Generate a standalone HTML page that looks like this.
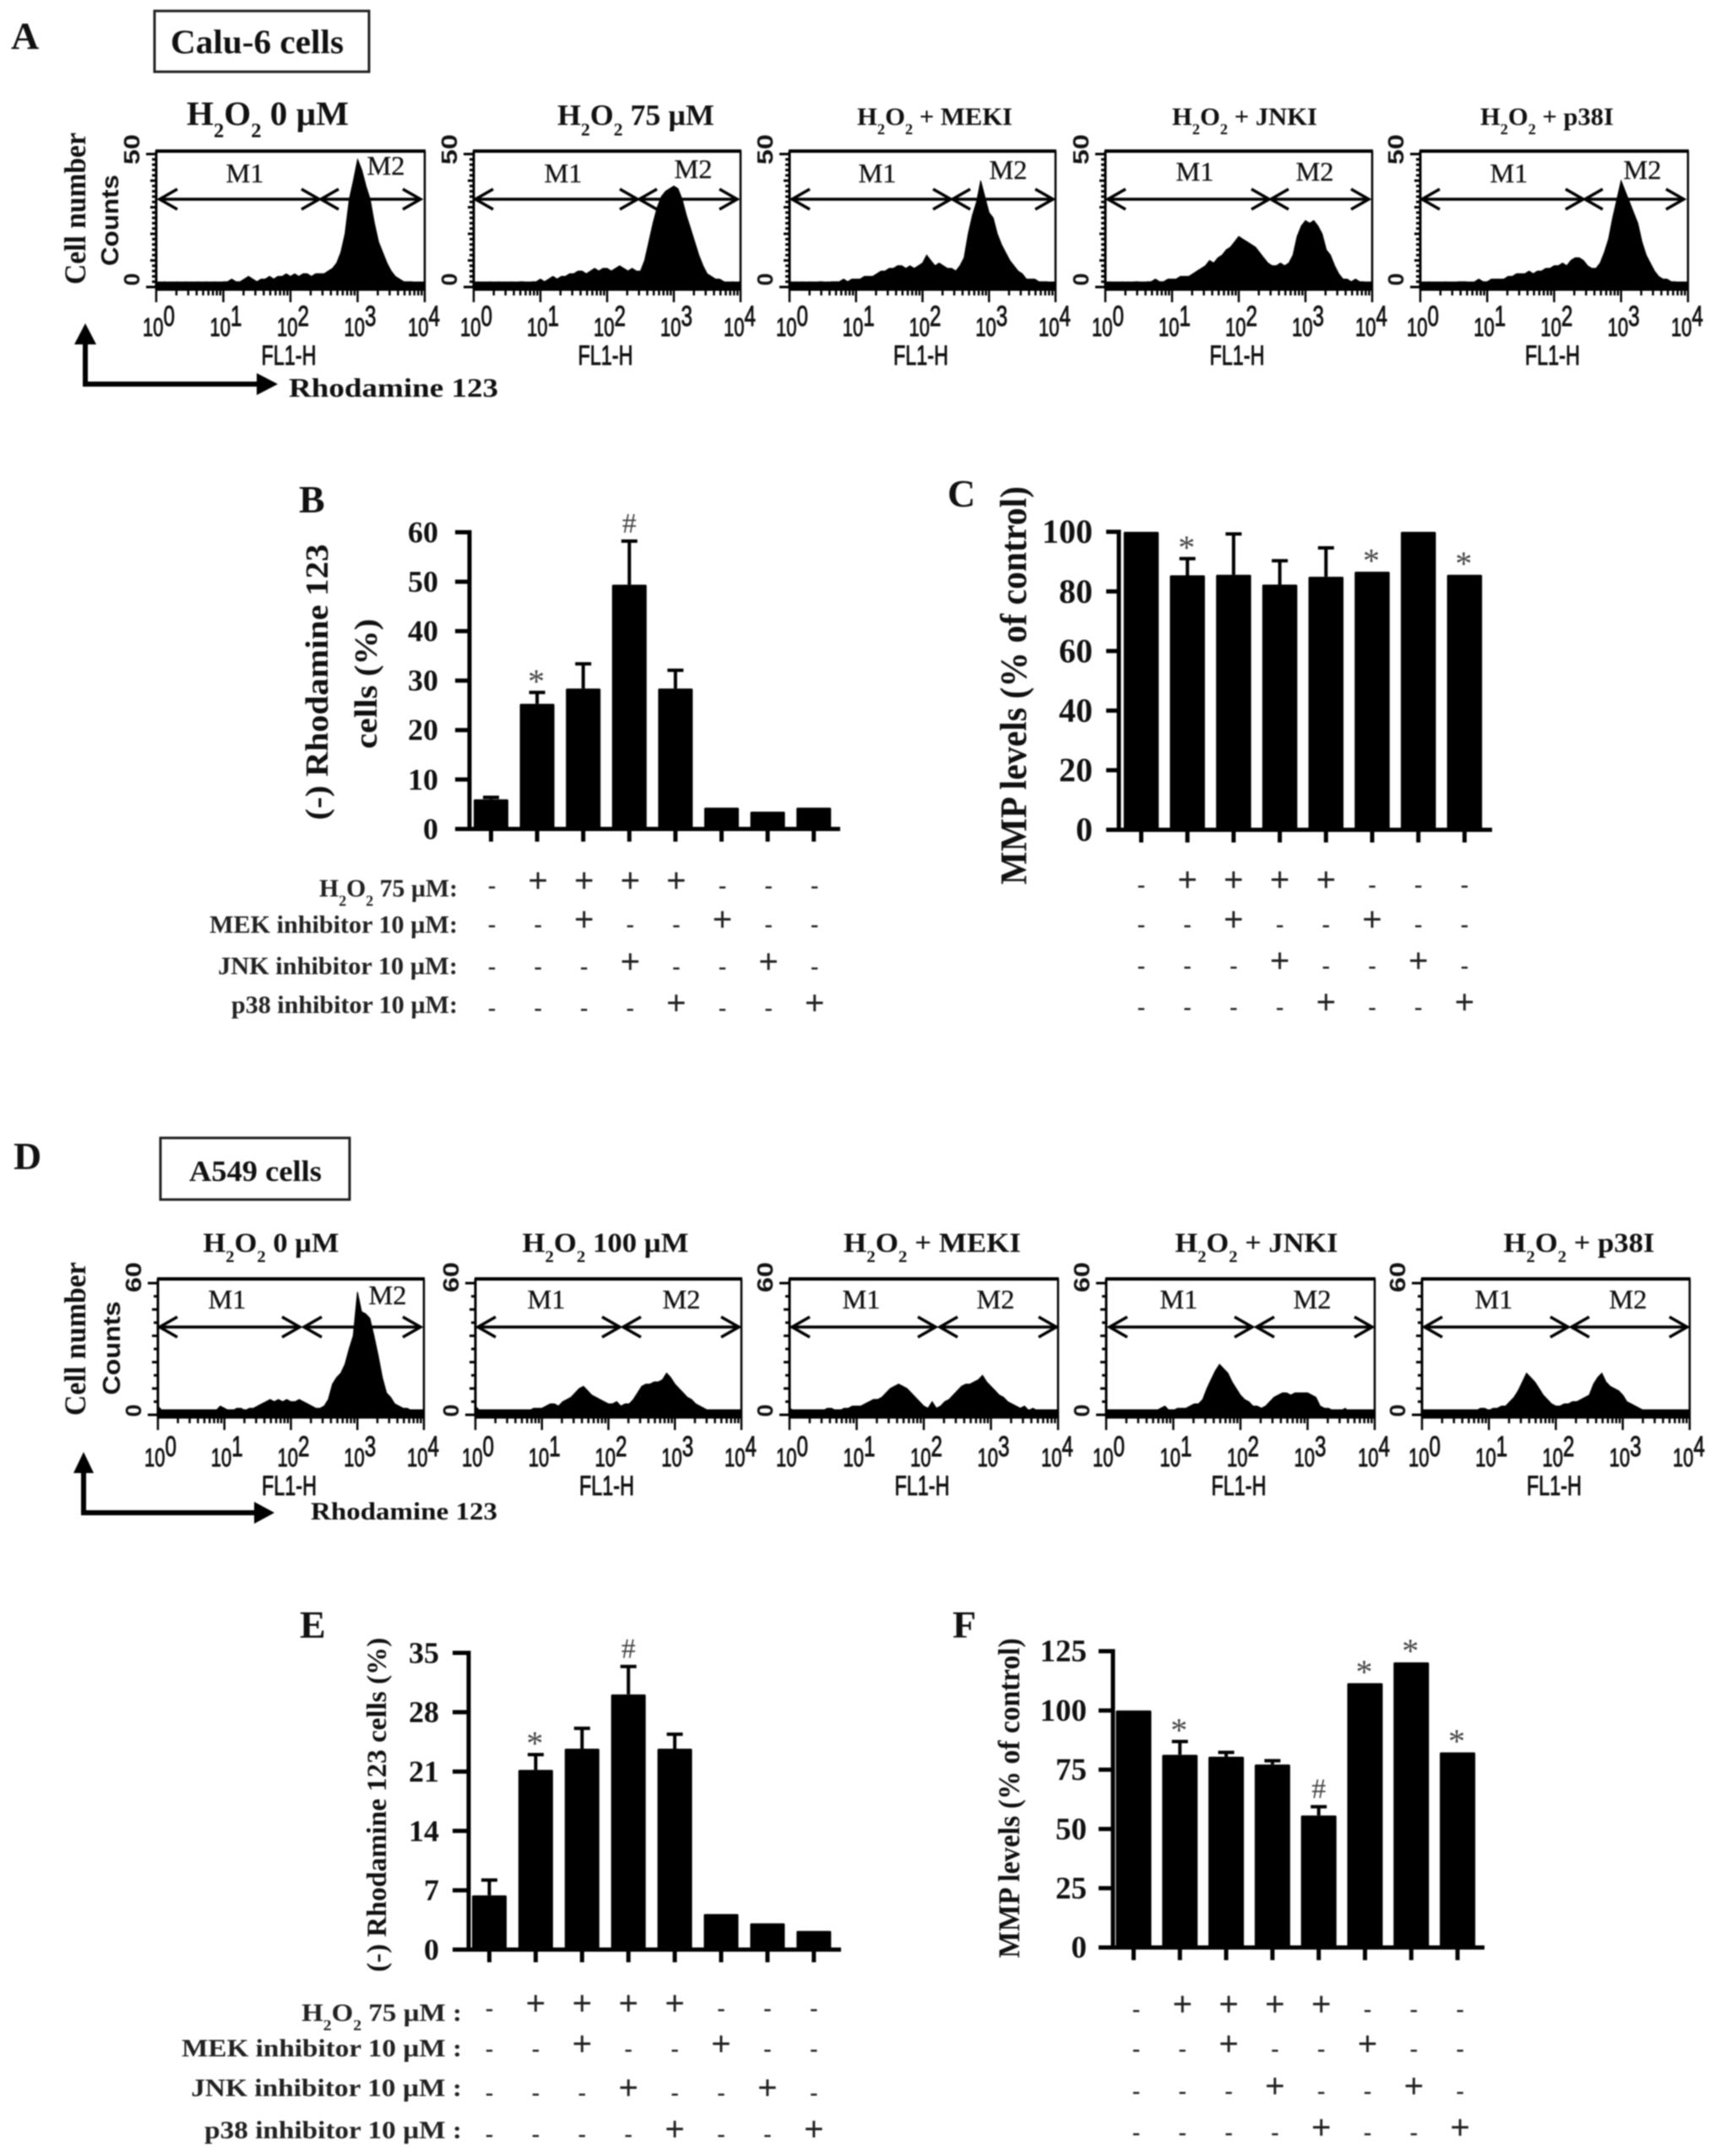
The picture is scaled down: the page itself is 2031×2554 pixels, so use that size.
<!DOCTYPE html>
<html lang="en">
<head>
<meta charset="utf-8">
<title>Rhodamine 123 flow cytometry and MMP levels</title>
<style>
  html, body { margin: 0; padding: 0; background: #fff; }
  svg { display: block; filter: blur(0.9px); }
  text { font-family: "Liberation Serif", serif; fill: #111; }
</style>
</head>
<body>
<svg id="figure" xmlns="http://www.w3.org/2000/svg" width="2031" height="2554" viewBox="0 0 2031 2554">
  <rect x="0" y="0" width="2031" height="2554" fill="#fff"/>

  <text x="13" y="58" font-size="46" font-weight="bold">A</text>
  <text x="354" y="607" font-size="46" font-weight="bold">B</text>
  <text x="1122" y="600" font-size="46" font-weight="bold">C</text>
  <text x="16" y="1385" font-size="46" font-weight="bold">D</text>
  <text x="355" y="1940" font-size="46" font-weight="bold">E</text>
  <text x="1128" y="1940" font-size="46" font-weight="bold">F</text>

  <rect x="183" y="13" width="254" height="72" fill="#fff" stroke="#222" stroke-width="3"/>
  <text x="202" y="63" font-size="40" font-weight="bold" textLength="205" lengthAdjust="spacingAndGlyphs">Calu-6 cells</text>
  <rect x="190" y="1348" width="224" height="73" fill="#fff" stroke="#222" stroke-width="3"/>
  <text x="224" y="1399" font-size="35" font-weight="bold" textLength="157" lengthAdjust="spacingAndGlyphs">A549 cells</text>

  <text transform="translate(101,247) rotate(-90)" text-anchor="middle" font-size="36" font-weight="bold" textLength="180" lengthAdjust="spacingAndGlyphs">Cell number</text>
  <text transform="translate(140,261) rotate(-90)" text-anchor="middle" font-size="29" font-weight="bold" style="font-family:'Liberation Sans',sans-serif" textLength="108" lengthAdjust="spacingAndGlyphs">Counts</text>
  <text transform="translate(101,1586) rotate(-90)" text-anchor="middle" font-size="36" font-weight="bold" textLength="182" lengthAdjust="spacingAndGlyphs">Cell number</text>
  <text transform="translate(142,1597) rotate(-90)" text-anchor="middle" font-size="29" font-weight="bold" style="font-family:'Liberation Sans',sans-serif" textLength="111" lengthAdjust="spacingAndGlyphs">Counts</text>

  <g>
    <polyline points="101,402 101,455 312,455" fill="none" stroke="#000" stroke-width="6"/>
    <polygon points="101,383 88,408 114,408" fill="#000"/>
    <polygon points="329,455 304,442 304,468" fill="#000"/>
  </g>
  <text x="342" y="470" font-size="32" font-weight="bold" textLength="248" lengthAdjust="spacingAndGlyphs">Rhodamine 123</text>
  <g>
    <polyline points="99,1738 99,1792 308,1792" fill="none" stroke="#000" stroke-width="6"/>
    <polygon points="99,1720 87,1745 111,1745" fill="#000"/>
    <polygon points="325,1792 301,1779 301,1805" fill="#000"/>
  </g>
  <text x="368" y="1800" font-size="30" font-weight="bold" textLength="221" lengthAdjust="spacingAndGlyphs">Rhodamine 123</text>

  <text transform="translate(388,808) rotate(-90)" text-anchor="middle" font-size="38" font-weight="bold" textLength="327" lengthAdjust="spacingAndGlyphs">(-) Rhodamine 123</text>
  <text transform="translate(446,810) rotate(-90)" text-anchor="middle" font-size="38" font-weight="bold" textLength="154" lengthAdjust="spacingAndGlyphs">cells (%)</text>
  <text transform="translate(1215,812) rotate(-90)" text-anchor="middle" font-size="44" font-weight="bold" textLength="472" lengthAdjust="spacingAndGlyphs">MMP levels (% of control)</text>
  <text transform="translate(457,2138) rotate(-90)" text-anchor="middle" font-size="33" font-weight="bold" textLength="396" lengthAdjust="spacingAndGlyphs">(-) Rhodamine 123 cells (%)</text>
  <text transform="translate(1207,2130) rotate(-90)" text-anchor="middle" font-size="36" font-weight="bold" textLength="379" lengthAdjust="spacingAndGlyphs">MMP levels (% of control)</text>
</svg>

<script>
// ---------- Histogram data: counts per 1/16-decade bin on the FL1-H log axis ----------
const histTitlesA = ['H_2O_2 0 µM', 'H_2O_2 75 µM', 'H_2O_2 + MEKI', 'H_2O_2 + JNKI', 'H_2O_2 + p38I'];
const histTitlesD = ['H_2O_2 0 µM', 'H_2O_2 100 µM', 'H_2O_2 + MEKI', 'H_2O_2 + JNKI', 'H_2O_2 + p38I'];
const xTickExponents = [0, 1, 2, 3, 4];

const histA1 = [2,1,2,1,1,2,1,2,1,1,2,1,2,1,2,1, 2,2,3,2,2,3,4,3,2,3,3,4,3,4,4,5, 4,5,4,5,5,4,5,5,5,6,7,9,13,20,33,40, 48,44,38,33,24,17,13,9,6,4,3,2,2,2,1,1];
const histA2 = [1,2,1,1,2,1,2,1,1,2,1,2,2,1,2,2, 3,2,3,4,3,4,4,5,5,6,6,5,6,7,6,7, 7,6,7,8,7,6,7,6,6,10,17,24,30,34,36,37, 38,37,33,27,22,17,12,8,5,4,3,3,2,1,2,1];
const histA3 = [2,1,1,2,1,2,1,2,2,1,2,2,2,3,2,3, 3,3,4,4,4,5,6,6,7,7,8,8,7,8,7,8, 9,12,10,8,9,8,7,7,6,8,11,20,27,32,40,34, 28,26,20,16,13,10,8,6,5,3,3,3,2,2,2,1];
const histA4 = [1,2,1,1,2,1,1,2,2,1,2,2,3,2,2,3, 3,3,4,4,4,5,6,7,8,10,9,11,12,14,15,17, 19,18,17,16,15,13,11,9,8,8,9,8,9,12,19,23, 25,24,25,23,20,14,12,8,5,3,3,2,3,2,2,1];
const histA5 = [1,1,2,1,1,1,2,1,1,2,2,2,1,2,3,2, 2,3,3,3,3,4,4,5,5,5,6,5,6,6,7,7, 8,8,9,8,10,11,11,10,8,7,7,9,13,18,26,33, 40,36,32,28,24,17,12,9,6,4,3,3,2,2,1,1];

const histD1 = [4,2,1,2,1,2,1,1,2,1,2,2,1,2,2,4, 3,2,2,3,3,2,3,3,4,5,6,7,6,7,6,7, 6,6,7,6,5,4,3,3,4,7,14,17,19,23,30,36, 56,47,46,44,36,27,17,10,8,5,4,3,3,2,2,1];
const histD2 = [4,2,1,2,2,1,2,1,2,2,1,2,2,2,3,3, 3,4,5,5,4,6,7,8,10,12,13,11,9,8,7,6, 5,5,6,4,5,5,7,10,13,14,14,15,15,16,19,17, 14,12,10,8,7,5,4,3,2,2,1,2,2,1,1,1];
const histD3 = [3,2,1,2,2,2,1,2,2,3,3,2,2,3,3,4, 4,4,5,6,7,7,8,10,12,13,14,13,12,10,8,6, 4,3,6,3,4,6,7,9,11,13,14,14,15,16,18,15, 13,11,9,8,6,5,4,3,4,2,3,2,1,1,1,1];
const histD4 = [2,1,2,1,2,2,2,1,2,2,2,2,2,3,4,2, 2,3,3,3,4,5,5,7,12,16,20,23,21,19,15,12, 9,7,6,4,4,3,4,6,8,9,10,10,9,10,10,10, 10,9,8,4,3,3,2,2,2,3,1,2,2,1,1,1];
const histD5 = [2,1,2,1,1,2,1,2,2,1,2,2,2,2,3,3, 2,3,3,4,4,6,8,11,15,19,17,15,12,9,7,5, 4,4,5,5,6,6,7,8,9,14,17,19,15,13,12,11, 9,6,5,4,3,2,2,1,1,1,1,1,1,1,1,1];

// ---------- Bar chart data ----------
const treatmentLabels = ['H_2O_2 75 µM', 'MEK inhibitor 10 µM', 'JNK inhibitor 10 µM', 'p38 inhibitor 10 µM'];
const h2o2Marks = ['-','+','+','+','+','-','-','-'];
const mekMarks  = ['-','-','+','-','-','+','-','-'];
const jnkMarks  = ['-','-','-','+','-','-','+','-'];
const p38Marks  = ['-','-','-','-','+','-','-','+'];

const bValues = [6, 25.3, 28.4, 49.4, 28.4, 4.3, 3.5, 4.3];
const bErrors = [0.4, 2.3, 5, 8.8, 3.7, 0, 0, 0];
const bSignificance = ['', '*', '', '#', '', '', '', ''];
const bTicks = [0, 10, 20, 30, 40, 50, 60];

const cValues = [100, 85.4, 85.6, 82.3, 84.9, 86.6, 100, 85.6];
const cErrors = [0, 5.6, 13.7, 8, 9.7, 0, 0, 0];
const cSignificance = ['', '*', '', '', '', '*', '', '*'];
const cTicks = [0, 20, 40, 60, 80, 100];

const eValues = [6.4, 21.2, 23.7, 30.1, 23.7, 4.2, 3.1, 2.2];
const eErrors = [1.8, 1.8, 2.4, 3.3, 1.7, 0, 0, 0];
const eSignificance = ['', '*', '', '#', '', '', '', ''];
const eTicks = [0, 7, 14, 21, 28, 35];

const fValues = [100, 81.3, 80.5, 77.2, 55.7, 111.5, 120.3, 82.3];
const fErrors = [0, 5.6, 1.8, 1.6, 3.7, 0, 0, 0];
const fSignificance = ['', '*', '', '', '#', '*', '*', '*'];
const fTicks = [0, 25, 50, 75, 100, 125];

// ---------- Drawing ----------
const SVGNS = 'http://www.w3.org/2000/svg';
const root = document.getElementById('figure');
const SANS = '"Liberation Sans", sans-serif';
const SERIF = '"Liberation Serif", serif';

function shape(parent, tag, attrs, name) {
  const el = document.createElementNS(SVGNS, tag);
  for (const k in attrs) el.setAttribute(k, attrs[k]);
  
  
  parent.appendChild(el);
  return el;
}

function group(parent, name) {
  return shape(parent, 'g', {}, name);
}

function addText(parent, str, o) {
  const el = shape(parent, 'text', {
    'text-anchor': o.anchor || 'middle',
    'font-size': o.size,
    'font-weight': o.weight || 'normal'
  }, o.name);
  el.style.fontFamily = o.family || SERIF;
  if (o.fill) el.style.fill = o.fill;
  if (o.strokeW) { el.style.stroke = o.fill || '#111'; el.style.strokeWidth = o.strokeW; }
  const pieces = str.split(/([_^]\d)/);
  let back = 0;
  pieces.forEach(function (p) {
    if (!p) return;
    const t = document.createElementNS(SVGNS, 'tspan');
    if (p[0] === '_' && p.length === 2) {
      const drop = o.size * 0.36;
      t.textContent = p[1];
      t.setAttribute('font-size', o.size * 0.6);
      t.setAttribute('dy', drop - back);
      back = drop;
    } else if (p[0] === '^' && p.length === 2) {
      const rise = -o.size * 0.38;
      t.textContent = p[1];
      t.setAttribute('font-size', o.size * 1.1);
      t.setAttribute('dy', rise - back);
      back = rise;
    } else {
      t.textContent = p;
      t.setAttribute('dy', -back);
      back = 0;
    }
    el.appendChild(t);
  });
  const w = el.getComputedTextLength();
  const s = o.width && w ? o.width / w : 1;
  let tf = 'translate(' + o.x + ',' + o.y + ')';
  if (o.rotate) tf += ' rotate(' + o.rotate + ')';
  tf += ' scale(' + s + ',1)';
  el.setAttribute('transform', tf);
  return el;
}

function drawHistogram(parent, L, P, counts, title) {
  const g = group(parent, 'histogram-' + P.id);
  const xLog = function (d) { return P.left + d * (P.right - P.left) / 4; };
  const yCount = function (c) { return L.zero - c * (L.zero - L.yMaxPx) / L.max; };

  addText(g, title, { x: P.titleX, y: L.titleY, size: P.titleSize, weight: 'bold', width: P.titleW, name: 'histogram-title' });

  // histogram area
  let d = 'M' + xLog(0) + ' ' + (L.bottom + 2);
  counts.forEach(function (c, i) {
    d += ' L' + xLog(i / 16).toFixed(1) + ' ' + yCount(c).toFixed(1);
  });
  d += ' L' + xLog(4) + ' ' + yCount(counts[counts.length - 1]).toFixed(1);
  d += ' L' + xLog(4) + ' ' + (L.bottom + 2) + ' Z';
  shape(g, 'path', { d: d, fill: '#000', stroke: '#000', 'stroke-width': 1 }, 'histogram-area');

  // frame
  shape(g, 'line', { x1: P.left - 1, x2: P.right + 1, y1: L.top, y2: L.top, stroke: '#000', 'stroke-width': 4 }, 'frame-top');
  shape(g, 'line', { x1: P.right, x2: P.right, y1: L.top, y2: L.bottom, stroke: '#000', 'stroke-width': 2.5 }, 'frame-right');
  shape(g, 'line', { x1: P.left, x2: P.left, y1: L.top, y2: L.bottom, stroke: '#000', 'stroke-width': 3 }, 'y-axis-line');
  shape(g, 'line', { x1: P.left, x2: P.right, y1: L.bottom - 4, y2: L.bottom - 4, stroke: '#000', 'stroke-width': 9 }, 'x-axis-band');

  // y ticks
  for (let c = 0; c <= L.max; c += L.minorStep) {
    const major = c === 0 || c === L.max;
    const mid = c % L.midStep === 0;
    shape(g, 'line', {
      x1: P.left - (major ? 12 : mid ? 7 : 5), x2: P.left,
      y1: yCount(c), y2: yCount(c),
      stroke: '#000', 'stroke-width': 3
    }, 'y-tick');
  }
  addText(g, String(L.max), { x: P.left - 20, y: L.maxLabelY, rotate: -90, size: 26, weight: 'bold', family: SANS, width: 36, name: 'y-tick-label-max' });
  addText(g, '0', { x: P.left - 20, y: L.zeroLabelY, rotate: -90, size: 26, weight: 'bold', family: SANS, width: 15, name: 'y-tick-label-zero' });

  // log x ticks
  for (let dec = 0; dec < 4; dec++) {
    for (let m = 1; m < 10; m++) {
      const lx = xLog(dec + Math.log10(m));
      shape(g, 'line', { x1: lx, x2: lx, y1: L.bottom, y2: L.bottom + (m === 1 ? 16 : 8), stroke: '#000', 'stroke-width': 2.5 }, 'x-tick');
    }
  }
  shape(g, 'line', { x1: xLog(4), x2: xLog(4), y1: L.bottom, y2: L.bottom + 16, stroke: '#000', 'stroke-width': 2.5 }, 'x-tick');
  xTickExponents.forEach(function (e) {
    addText(g, '10^' + e, { x: xLog(e) + (e === 4 ? -1 : 3), y: L.tickLabelY, size: 31, family: SANS, width: 38, strokeW: 0.9, name: 'x-tick-label' });
  });
  addText(g, 'FL1-H', { x: xLog(2) - 2, y: L.fl1Y, size: 32, family: SANS, width: 65, strokeW: 0.9, name: 'x-axis-title' });

  // gates
  function gate(x1, x2, name) {
    const ag = group(g, name);
    const y = L.gateY;
    shape(ag, 'line', { x1: x1, x2: x2, y1: y, y2: y, stroke: '#000', 'stroke-width': 3.5 }, 'gate-line');
    shape(ag, 'polyline', { points: (x1 + 21) + ',' + (y - 12) + ' ' + x1 + ',' + y + ' ' + (x1 + 21) + ',' + (y + 12), fill: 'none', stroke: '#000', 'stroke-width': 3.5 }, 'gate-arrow-left');
    shape(ag, 'polyline', { points: (x2 - 21) + ',' + (y - 12) + ' ' + x2 + ',' + y + ' ' + (x2 - 21) + ',' + (y + 12), fill: 'none', stroke: '#000', 'stroke-width': 3.5 }, 'gate-arrow-right');
  }
  gate(P.m1[0], P.m1[1], 'gate-m1');
  gate(P.m2[0], P.m2[1], 'gate-m2');
  addText(g, 'M1', { x: P.m1LabelX, y: P.m1LabelY, size: 32, width: 45, strokeW: 0.3, name: 'gate-label-m1' });
  addText(g, 'M2', { x: P.m2LabelX, y: P.m2LabelY, size: 32, width: 45, strokeW: 0.3, name: 'gate-label-m2' });
}

function drawBarChart(parent, L, values, errors, marks, ticks) {
  const g = group(parent, 'bar-chart-' + L.id);
  const yVal = function (v) { return L.zero - v * (L.zero - L.topPx) / L.max; };
  const xCat = function (i) { return L.xStart + i * L.xStep; };

  values.forEach(function (v, i) {
    const cx = xCat(i);
    if (errors[i] > 0) {
      const ey = yVal(v + errors[i]);
      shape(g, 'line', { x1: cx, x2: cx, y1: yVal(v), y2: ey, stroke: '#000', 'stroke-width': 4 }, 'error-bar');
      shape(g, 'line', { x1: cx - 9.5, x2: cx + 9.5, y1: ey, y2: ey, stroke: '#000', 'stroke-width': 4 }, 'error-cap');
    }
    shape(g, 'rect', { x: cx - L.barW / 2, y: yVal(v), width: L.barW, height: L.zero - yVal(v), fill: '#000', rx: 1.5 }, 'bar');
    shape(g, 'line', { x1: cx, x2: cx, y1: L.zero, y2: L.zero + 15, stroke: '#000', 'stroke-width': 5 }, 'x-tick');
    if (marks[i]) {
      const sy = yVal(v + errors[i]) - 21;
      if (marks[i] === '*') {
        addText(g, '*', { x: cx - 1, y: sy + 21, size: 40, fill: '#444', name: 'significance-star' });
      } else {
        addText(g, '#', { x: cx, y: sy + 11, size: 34, fill: '#444', name: 'significance-hash' });
      }
    }
  });

  shape(g, 'line', { x1: L.axisX, x2: L.axisX, y1: L.topPx - 2.5, y2: L.zero + 2.5, stroke: '#000', 'stroke-width': 5 }, 'y-axis-line');
  shape(g, 'line', { x1: L.axisLeft, x2: L.axisRight, y1: L.zero, y2: L.zero, stroke: '#000', 'stroke-width': 5 }, 'x-axis-line');
  ticks.forEach(function (t) {
    const ty = yVal(t);
    shape(g, 'line', { x1: L.axisLeft, x2: L.axisX, y1: ty, y2: ty, stroke: '#000', 'stroke-width': 5 }, 'y-tick');
    addText(g, String(t), { x: L.tickLabelX, y: ty + L.tickSize * 0.33, anchor: 'end', size: L.tickSize, weight: 'bold', name: 'y-tick-label' });
  });

  [h2o2Marks, mekMarks, jnkMarks, p38Marks].forEach(function (row, r) {
    const rowG = group(g, 'treatment-row-' + (r + 1));
    row.forEach(function (m, i) {
      const cx = xCat(i) + L.tableDx;
      if (m === '+') {
        addText(rowG, '+', { x: cx, y: L.rowYs[r] + 10, size: 42, weight: 'bold', fill: '#222', name: 'treatment-plus' });
      } else {
        addText(rowG, '-', { x: cx, y: L.rowYs[r] + 11, size: 28, weight: 'bold', fill: '#222', name: 'treatment-minus' });
      }
    });
    if (L.rowLabels) {
      addText(rowG, treatmentLabels[r] + L.colon, {
        x: L.rowLabelRight, y: L.rowLabels.y[r], anchor: 'end', size: 30, weight: 'bold',
        width: L.rowLabels.w[r], fill: '#222', name: 'treatment-label'
      });
    }
  });
}

const layoutA = { zero: 340, yMaxPx: 182.5, max: 50, minorStep: 2, midStep: 10, top: 179, bottom: 342, titleY: 148, tickLabelY: 398, fl1Y: 432, gateY: 236, maxLabelY: 177, zeroLabelY: 331 };
const layoutD = { zero: 1676, yMaxPx: 1520, max: 60, minorStep: 6, midStep: 12, top: 1515, bottom: 1678, titleY: 1483, tickLabelY: 1737, fl1Y: 1771, gateY: 1572, maxLabelY: 1513, zeroLabelY: 1671 };

const panelsA = [
  { id: 'a1', left: 185, right: 503, titleX: 317, titleW: 192, titleSize: 40, m1: [189, 378], m2: [380, 498], m1LabelX: 290, m1LabelY: 216, m2LabelX: 457, m2LabelY: 207 },
  { id: 'a2', left: 561, right: 877, titleX: 753, titleW: 186, titleSize: 35, m1: [563, 755], m2: [757, 873], m1LabelX: 667, m1LabelY: 216, m2LabelX: 821, m2LabelY: 211 },
  { id: 'a3', left: 935, right: 1250, titleX: 1107, titleW: 184, titleSize: 30, m1: [938, 1126], m2: [1128, 1247], m1LabelX: 1039, m1LabelY: 216, m2LabelX: 1194, m2LabelY: 212 },
  { id: 'a4', left: 1309, right: 1625, titleX: 1474, titleW: 172, titleSize: 30, m1: [1312, 1503], m2: [1505, 1621], m1LabelX: 1415, m1LabelY: 214, m2LabelX: 1557, m2LabelY: 214 },
  { id: 'a5', left: 1682, right: 1999, titleX: 1832, titleW: 158, titleSize: 30, m1: [1684, 1875], m2: [1877, 1994], m1LabelX: 1787, m1LabelY: 216, m2LabelX: 1945, m2LabelY: 212 }
];
const panelsD = [
  { id: 'd1', left: 187, right: 502, titleX: 321, titleW: 161, titleSize: 33, m1: [189, 355], m2: [360, 498], m1LabelX: 269, m1LabelY: 1550, m2LabelX: 459, m2LabelY: 1545 },
  { id: 'd2', left: 563, right: 878, titleX: 717, titleW: 197, titleSize: 33, m1: [566, 734], m2: [738, 875], m1LabelX: 647, m1LabelY: 1550, m2LabelX: 807, m2LabelY: 1550 },
  { id: 'd3', left: 935, right: 1253, titleX: 1104, titleW: 210, titleSize: 33, m1: [938, 1108], m2: [1113, 1251], m1LabelX: 1020, m1LabelY: 1550, m2LabelX: 1179, m2LabelY: 1550 },
  { id: 'd4', left: 1310, right: 1628, titleX: 1488, titleW: 193, titleSize: 33, m1: [1314, 1483], m2: [1488, 1625], m1LabelX: 1396, m1LabelY: 1550, m2LabelX: 1554, m2LabelY: 1550 },
  { id: 'd5', left: 1684, right: 2001, titleX: 1870, titleW: 179, titleSize: 33, m1: [1687, 1857], m2: [1861, 1998], m1LabelX: 1769, m1LabelY: 1550, m2LabelX: 1928, m2LabelY: 1550 }
];

const histSeriesA = [histA1, histA2, histA3, histA4, histA5];
const histSeriesD = [histD1, histD2, histD3, histD4, histD5];
panelsA.forEach(function (P, i) { drawHistogram(root, layoutA, P, histSeriesA[i], histTitlesA[i]); });
panelsD.forEach(function (P, i) { drawHistogram(root, layoutD, P, histSeriesD[i], histTitlesD[i]); });

drawBarChart(root, {
  id: 'b', zero: 982, topPx: 630.5, max: 60, axisX: 556, axisLeft: 539, axisRight: 995,
  xStart: 581.5, xStep: 54.6, barW: 41, tickLabelX: 519, tickSize: 36, tableDx: 1,
  rowYs: [1047, 1093, 1143, 1192], rowLabelRight: 542, colon: ':',
  rowLabels: { y: [1062, 1105, 1154, 1200], w: [164, 294, 284, 268] }
}, bValues, bErrors, bSignificance, bTicks);

drawBarChart(root, {
  id: 'c', zero: 983, topPx: 630, max: 100, axisX: 1325, axisLeft: 1310, axisRight: 1767,
  xStart: 1351.5, xStep: 54.7, barW: 41.5, tickLabelX: 1294, tickSize: 40, tableDx: 0,
  rowYs: [1046, 1093, 1142, 1191]
}, cValues, cErrors, cSignificance, cTicks);

drawBarChart(root, {
  id: 'e', zero: 2309.5, topPx: 1958, max: 35, axisX: 555, axisLeft: 536, axisRight: 996,
  xStart: 579.5, xStep: 54.9, barW: 41, tickLabelX: 520, tickSize: 36, tableDx: 0,
  rowYs: [2377, 2425, 2477, 2526], rowLabelRight: 547, colon: ' :',
  rowLabels: { y: [2394, 2436, 2483, 2533], w: [190, 332, 321, 305] }
}, eValues, eErrors, eSignificance, eTicks);

drawBarChart(root, {
  id: 'f', zero: 2307, topPx: 1956, max: 125, axisX: 1318, axisLeft: 1301, axisRight: 1758,
  xStart: 1342.5, xStep: 54.8, barW: 42, tickLabelX: 1287, tickSize: 37, tableDx: 3,
  rowYs: [2378, 2425, 2475, 2524]
}, fValues, fErrors, fSignificance, fTicks);
</script>
</body>
</html>
